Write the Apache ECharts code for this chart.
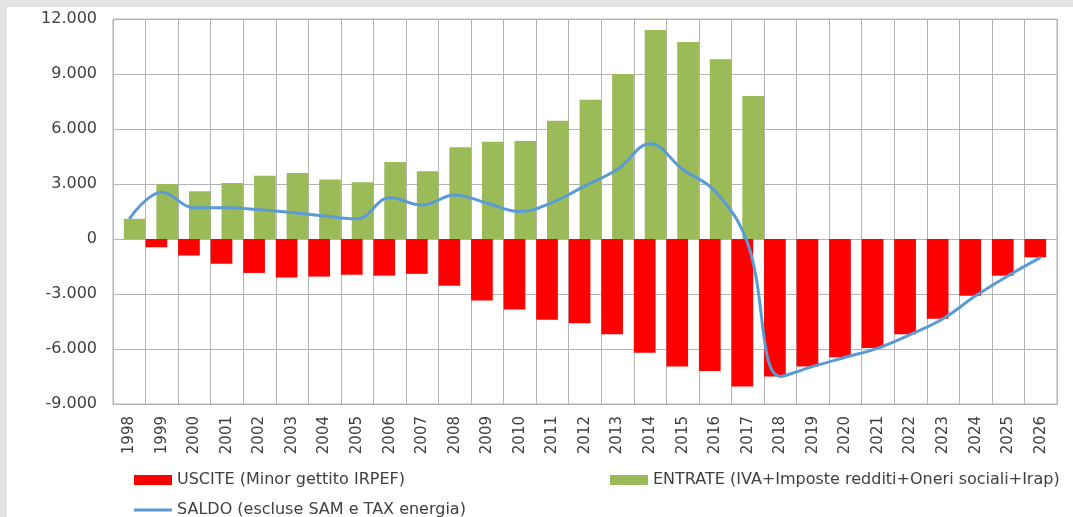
<!DOCTYPE html>
<html>
<head>
<meta charset="utf-8">
<script src="https://cdn.jsdelivr.net/npm/echarts@6/dist/echarts.min.js"></script>
<style>
  html, body { margin: 0; padding: 0; background: #e4e4e4; width: 1073px; height: 517px; overflow: hidden; }
  #chart { position: absolute; left: 7px; top: 7px; width: 1066px; height: 510px; background: #fff; }
</style>
</head>
<body>
<div id="chart"></div>
<script>
  const years = ['1998', '1999', '2000', '2001', '2002', '2003', '2004', '2005', '2006', '2007',
    '2008', '2009', '2010', '2011', '2012', '2013', '2014', '2015', '2016', '2017',
    '2018', '2019', '2020', '2021', '2022', '2023', '2024', '2025', '2026']
  // USCITE (Minor gettito IRPEF)
  const uscite = [null, -450, -900, -1350, -1850, -2100, -2050, -1950, -2000, -1900,
    -2550, -3350, -3850, -4400, -4600, -5200, -6200, -6950, -7200, -8050,
    -7500, -6950, -6450, -5950, -5200, -4350, -3100, -2000, -1000]
  // ENTRATE (IVA+Imposte redditi+Oneri sociali+Irap)
  const entrate = [1100, 3000, 2600, 3050, 3450, 3600, 3250, 3100, 4200, 3700,
    5000, 5300, 5350, 6450, 7600, 9000, 11400, 10750, 9800, 7800,
    null, null, null, null, null, null, null, null, null]
  // SALDO (escluse SAM e TAX energia)
  const saldo = [1100, 2550, 1700, 1700, 1600, 1450, 1250, 1100, 2250, 1850,
    2400, 1950, 1500, 2000, 2900, 3800, 5200, 3800, 2600, -250,
    -7500, -6950, -6450, -5950, -5200, -4350, -3100, -2000, -1000]

  const names = [
    'USCITE (Minor gettito IRPEF)',
    'ENTRATE (IVA+Imposte redditi+Oneri sociali+Irap)',
    'SALDO (escluse SAM e TAX energia)'
  ]

  const font = 'DejaVu Sans'
  const gridColor = '#b3b3b3'
  const textColor = '#404040'

  function fmt(v) {
    const s = String(Math.abs(v)).replace(/\B(?=(\d{3})+(?!\d))/g, '.')
    return v < 0 ? '-' + s : s
  }

  const legendText = { fontFamily: font, fontSize: 16, color: textColor }

  const chart = echarts.init(document.getElementById('chart'))
  chart.setOption({
    animation: false,
    grid: {
      left: 106, top: 12, width: 944, height: 385,
      show: true, borderColor: gridColor, borderWidth: 1
    },
    legend: [
      {
        left: 122, top: 460, itemWidth: 38, itemHeight: 10, icon: 'rect',
        data: [names[0]], textStyle: legendText
      },
      {
        left: 598, top: 460, itemWidth: 38, itemHeight: 10, icon: 'rect',
        data: [names[1]], textStyle: legendText
      },
      {
        left: 122, top: 490, itemWidth: 38, itemHeight: 3, icon: 'rect',
        data: [names[2]], textStyle: legendText
      }
    ],
    xAxis: {
      type: 'category',
      data: years,
      position: 'bottom',
      axisLine: { show: true, onZero: false, lineStyle: { color: gridColor } },
      axisTick: { show: false },
      splitLine: { show: true, lineStyle: { color: gridColor } },
      axisLabel: {
        rotate: 90, margin: 12, interval: 0,
        fontFamily: font, fontSize: 15, color: textColor
      }
    },
    yAxis: {
      type: 'value',
      min: -9000, max: 12000, interval: 3000,
      axisLine: { show: true, lineStyle: { color: gridColor } },
      axisTick: { show: false },
      splitLine: { lineStyle: { color: gridColor } },
      axisLabel: {
        margin: 16, fontFamily: font, fontSize: 16, color: textColor,
        formatter: fmt
      }
    },
    series: [
      {
        name: names[0], type: 'bar', data: uscite,
        itemStyle: { color: '#ff0000' },
        barGap: '-50%', barCategoryGap: '0%'
      },
      {
        name: names[1], type: 'bar', data: entrate,
        itemStyle: { color: '#9bbb59' },
        barGap: '-50%', barCategoryGap: '0%'
      },
      {
        name: names[2], type: 'line', data: saldo,
        smooth: 0.4, symbol: 'none', showSymbol: false,
        lineStyle: { color: '#5b9bd5', width: 3 },
        itemStyle: { color: '#5b9bd5' },
        z: 5
      }
    ]
  })
</script>
</body>
</html>
